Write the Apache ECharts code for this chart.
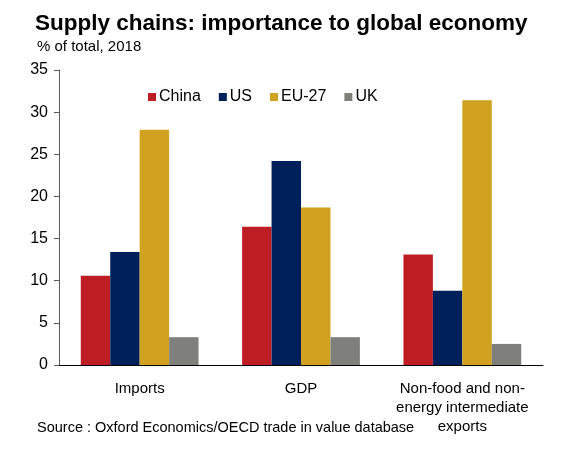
<!DOCTYPE html>
<html>
<head>
<meta charset="utf-8">
<script src="https://cdn.jsdelivr.net/npm/echarts@6/dist/echarts.min.js"></script>
<style>html,body{margin:0;padding:0;background:#fff}#c{width:578px;height:450px}</style>
</head>
<body>
<div id="c"></div>
<script>
const categories = ['Imports', 'GDP', 'Non-food and non-\nenergy intermediate\nexports'];
const seriesNames = ['China', 'US', 'EU-27', 'UK'];
const china = [10.6, 16.4, 13.1];
const us = [13.4, 24.2, 8.8];
const eu27 = [27.9, 18.7, 31.4];
const uk = [3.3, 3.3, 2.5];
const yTicks = [0, 5, 10, 15, 20, 25, 30, 35];
const colors = ['#BE1D24', '#00205C', '#D1A21F', '#7F7F7B'];

const values = [china, us, eu27, uk];
const font = 'Liberation Sans, Arial, sans-serif';
const chart = echarts.init(document.getElementById('c'), null, {renderer: 'canvas'});
chart.setOption({
  animation: false,
  backgroundColor: '#fff',
  title: [
    {text: 'Supply chains: importance to global economy', left: 30, top: 7,
     textStyle: {fontFamily: font, fontSize: 22.5, fontWeight: 'bold', color: '#000'}},
    {text: '% of total, 2018', left: 32, top: 34,
     textStyle: {fontFamily: font, fontSize: 15, fontWeight: 'normal', color: '#000'}},
    {text: 'Source : Oxford Economics/OECD trade in value database', left: 32, top: 415,
     textStyle: {fontFamily: font, fontSize: 14.5, fontWeight: 'normal', color: '#000'}}
  ],
  legend: {
    data: seriesNames, left: 143, top: 84, itemWidth: 8, itemHeight: 8, itemGap: 18,
    icon: 'rect', textStyle: {fontFamily: font, fontSize: 16, color: '#000', padding: [0, 0, 0, -2]}
  },
  grid: {left: 59, right: 35, top: 70, bottom: 85, containLabel: false},
  xAxis: {
    type: 'category', data: categories,
    axisLine: {lineStyle: {color: '#000', width: 1}},
    axisTick: {show: false},
    axisLabel: {fontFamily: font, fontSize: 15, color: '#000', margin: 14, lineHeight: 19, interval: 0}
  },
  yAxis: {
    type: 'value', min: 0, max: 35, interval: 5,
    axisLine: {show: true, lineStyle: {color: '#595959', width: 1}},
    axisTick: {show: true, length: 5, lineStyle: {color: '#595959'}},
    splitLine: {show: false},
    axisLabel: {fontFamily: font, fontSize: 16, color: '#000', margin: 11,
      customValues: yTicks}
  },
  series: seriesNames.map((n, i) => ({
    name: n, type: 'bar', data: values[i], barGap: '0%', barCategoryGap: '27%',
    itemStyle: {color: colors[i]}
  }))
});
</script>
</body>
</html>
